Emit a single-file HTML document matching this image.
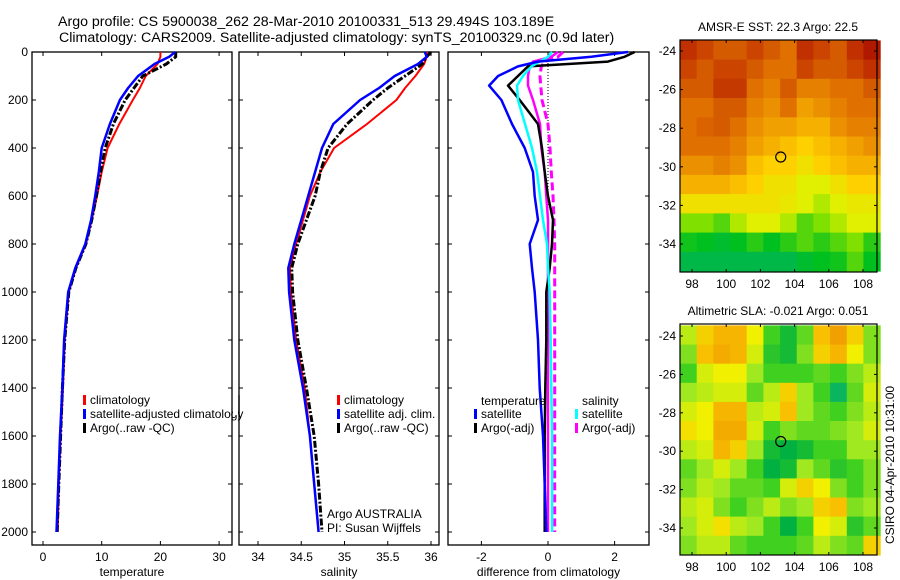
<!DOCTYPE html>
<html><head><meta charset="utf-8">
<style>
html,body{margin:0;padding:0;background:#fff;}
svg{display:block;font-family:"Liberation Sans",sans-serif;}
text{fill:#000;}
</style></head>
<body>
<svg id="fig" width="900" height="580" viewBox="0 0 900 580">
<text x="58" y="26" font-size="14.2">Argo profile: CS 5900038_262 28-Mar-2010 20100331_513 29.494S 103.189E</text>
<text x="59" y="42" font-size="14.2">Climatology: CARS2009. Satellite-adjusted climatology: synTS_20100329.nc (0.9d later)</text>
<g id="layer"></g>
</svg>
<script>
// ---- profile data ----
const depths = [0,20,50,100,150,200,300,400,500,600,700,800,900,1000,1200,1400,1600,1800,2000];
const tempClim = [20,20,19.5,17.5,16.5,15.3,13,11,10,9.2,8.3,7.3,5.6,4.4,3.7,3.4,3.0,2.7,2.5];
const tempSat = [22.5,21.5,19,16.2,14.5,13.1,11.4,10,9.5,8.9,8.2,7.2,5.5,4.3,3.6,3.3,2.9,2.6,2.3];
const tempArgo = [22.6,22.6,21,17,15.5,14,12,10.6,9.8,9.1,8.3,7.3,5.6,4.4,3.7,3.3,3.0,2.7,2.4];
const salClim = [35.95,35.95,35.92,35.82,35.7,35.6,35.26,34.88,34.72,34.6,34.52,34.44,34.37,34.38,34.44,34.54,34.6,34.65,34.7];
const salSat = [35.93,35.95,35.85,35.58,35.4,35.18,34.87,34.74,34.66,34.58,34.5,34.42,34.35,34.36,34.42,34.52,34.6,34.65,34.7];
const salArgo = [36.0,35.95,35.9,35.7,35.5,35.33,35.03,34.81,34.72,34.66,34.56,34.46,34.39,34.4,34.46,34.56,34.65,34.7,34.74];
// ---- difference data ----
const diffDepths = [0,20,40,60,100,140,200,300,400,500,600,700,800,900,1000,1200,1400,1600,1800,2000];
const dTempSat = [2.4,1.3,-0.3,-0.9,-1.5,-1.77,-1.4,-1.08,-0.7,-0.45,-0.4,-0.3,-0.55,-0.48,-0.4,-0.3,-0.25,-0.15,-0.1,-0.05];
const dTempArgo = [2.6,2.3,1.8,-0.6,-0.9,-1.2,-0.85,-0.3,-0.18,-0.1,0.0,0.15,0.12,0.05,-0.05,-0.05,-0.08,-0.1,-0.1,-0.1];
const dSalSat = [0.12,0.0,-0.25,-0.5,-0.75,-0.93,-0.9,-0.69,-0.48,-0.33,-0.24,-0.15,-0.03,0.0,0.05,0.08,0.1,0.12,0.12,0.12];
const dSalArgo = [0.3,0.1,-0.45,-0.55,-0.6,-0.6,-0.45,-0.24,-0.2,-0.1,-0.05,0.0,0.0,0.0,0.0,0.0,0.0,0.0,0.0,0.0];
const dSalArgo2 = [0.45,0.3,-0.1,-0.2,-0.24,-0.22,-0.18,0.0,0.06,0.1,0.15,0.18,0.2,0.2,0.2,0.2,0.2,0.2,0.2,0.2];
// ---- ticks ----
const depthTicks = [0,200,400,600,800,1000,1200,1400,1600,1800,2000];
const tempTicks = [0,10,20,30];
const salTicks = [34,34.5,35,35.5,36];
const diffTicks = [-2,0,2];
const lonTicks = [98,100,102,104,106,108];
const latTicks = [-24,-26,-28,-30,-32,-34];
// ---- map grids (rows lat -24..-35, cols lon 97.5..108.5) ----
const sstGrid = [
[0.9,0.85,0.8,0.8,0.85,0.8,0.75,0.9,0.85,0.8,0.9,0.95],
[0.85,0.8,0.85,0.85,0.8,0.75,0.75,0.85,0.8,0.8,0.85,0.9],
[0.8,0.8,0.88,0.88,0.75,0.7,0.8,0.7,0.7,0.75,0.75,0.8],
[0.75,0.75,0.8,0.8,0.7,0.65,0.75,0.6,0.65,0.7,0.75,0.75],
[0.75,0.78,0.8,0.75,0.65,0.6,0.6,0.55,0.55,0.65,0.7,0.7],
[0.75,0.75,0.75,0.7,0.6,0.55,0.5,0.45,0.5,0.55,0.6,0.65],
[0.65,0.65,0.7,0.65,0.5,0.45,0.45,0.4,0.45,0.5,0.55,0.55],
[0.55,0.55,0.55,0.5,0.45,0.4,0.4,0.35,0.35,0.4,0.45,0.45],
[0.4,0.4,0.4,0.4,0.4,0.4,0.38,0.35,0.3,0.35,0.38,0.38],
[0.25,0.25,0.2,0.3,0.35,0.35,0.3,0.2,0.25,0.3,0.35,0.35],
[0.12,0.1,0.08,0.1,0.15,0.1,0.15,0.2,0.15,0.2,0.25,0.15],
[0.05,0.05,0.05,0.05,0.05,0.05,0.05,0.08,0.1,0.12,0.2,0.1]];
const slaGrid = [
[0.5,0.7,0.8,0.8,0.6,0.3,0.2,0.35,0.75,0.9,0.7,0.4],
[0.4,0.75,0.85,0.8,0.55,0.25,0.2,0.4,0.7,0.8,0.6,0.4],
[0.3,0.55,0.6,0.6,0.45,0.3,0.3,0.3,0.35,0.3,0.4,0.5],
[0.45,0.5,0.55,0.55,0.35,0.5,0.7,0.45,0.3,0.1,0.35,0.55],
[0.55,0.6,0.8,0.8,0.5,0.55,0.75,0.45,0.35,0.3,0.4,0.5],
[0.65,0.6,0.85,0.85,0.55,0.3,0.4,0.35,0.35,0.4,0.45,0.55],
[0.5,0.55,0.8,0.7,0.45,0.2,0.15,0.2,0.3,0.3,0.45,0.45],
[0.35,0.45,0.55,0.45,0.3,0.15,0.2,0.45,0.35,0.25,0.3,0.4],
[0.4,0.5,0.45,0.35,0.35,0.3,0.55,0.7,0.6,0.4,0.3,0.4],
[0.5,0.55,0.4,0.3,0.4,0.5,0.4,0.45,0.7,0.75,0.4,0.45],
[0.45,0.55,0.65,0.5,0.45,0.3,0.15,0.3,0.6,0.55,0.25,0.35],
[0.4,0.5,0.5,0.35,0.3,0.3,0.3,0.35,0.5,0.4,0.35,0.7]];
const floatLon = 103.189, floatLat = -29.494;

const NS = 'http://www.w3.org/2000/svg';
const layer = document.getElementById('layer');
function mk(tag, attrs, parent){ const e=document.createElementNS(NS,tag); for(const k in attrs) e.setAttribute(k,attrs[k]); (parent||layer).appendChild(e); return e; }
function txt(x,y,s,size,anchor,parent){ const t=mk('text',{x:x,y:y,'font-size':size||12,'text-anchor':anchor||'start'},parent); t.textContent=s; return t; }

const pTop=52, pBot=545;
const yD = d => 52 + d*0.24;

function panel(name, x0, x1, xs, xt, xlabel, showYLabels){
  const g = mk('g',{});
  
  
  const r = mk('rect',{x:x0,y:pTop,width:x1-x0,height:pBot-pTop,fill:'none',stroke:'#000','stroke-width':1.3},g);
  
  
  depthTicks.forEach(d=>{
    const y=yD(d);
    mk('line',{x1:x0,y1:y,x2:x0+4,y2:y,stroke:'#000'},g);
    mk('line',{x1:x1,y1:y,x2:x1-4,y2:y,stroke:'#000'},g);
    if(showYLabels){ const t=txt(28,y+4,String(d),12,'end',g);
      
       }
  });
  xt.forEach(v=>{
    const x=xs(v);
    mk('line',{x1:x,y1:pBot,x2:x,y2:pBot-4,stroke:'#000'},g);
    mk('line',{x1:x,y1:pTop,x2:x,y2:pTop+4,stroke:'#000'},g);
    const t=txt(x,561,String(v),12,'middle',g);
    
    
  });
  const xl=txt((x0+x1)/2,576,xlabel,12,'middle',g);
  
  
  return g;
}
function line(g, xs, vals, ds, color, w, dash, name){
  const pts = vals.map((v,i)=>xs(v).toFixed(1)+','+yD(ds[i]).toFixed(1)).join(' ');
  const p = mk('polyline',{points:pts,fill:'none',stroke:color,'stroke-width':w,'stroke-linejoin':'round'},g);
  if(dash) p.setAttribute('stroke-dasharray',dash);
  
  
}
function legend(g, x, y, color, label, name){
  const b=mk('rect',{x:x,y:y-9,width:3,height:10,fill:color},g);
  
  
  const t=txt(x+7,y,label,12,'start',g);
  
  
}

// Panel 1 temperature
const xT = v => 43 + v*5.87;
const g1 = panel('temperature-panel', 32, 232, xT, tempTicks, 'temperature', true);
line(g1,xT,tempClim,depths,'#f00',2,null,'temp-climatology-line');
line(g1,xT,tempArgo,depths,'#000',3,'7,2,2,2','temp-argo-line');
line(g1,xT,tempSat,depths,'#00f',2.5,null,'temp-satellite-line');
legend(g1,83,404,'#f00','climatology','legend-climatology');
legend(g1,83,418,'#00f','satellite-adjusted climatology','legend-satellite');
legend(g1,83,432,'#000','Argo(..raw -QC)','legend-argo');

// Panel 2 salinity
const xS = v => 258 + (v-34)*86.5;
const g2 = panel('salinity-panel', 239, 439, xS, salTicks, 'salinity', false);
// white cover for overflowing legend text of panel 1
mk('rect',{x:233,y:395,width:5,height:20,fill:'#fff'},g2);
mk('line',{x1:239,y1:395,x2:239,y2:415,stroke:'#000','stroke-width':1.3},g2);
line(g2,xS,salClim,depths,'#f00',2,null,'sal-climatology-line');
line(g2,xS,salArgo,depths,'#000',3,'7,2,2,2','sal-argo-line');
line(g2,xS,salSat,depths,'#00f',2.5,null,'sal-satellite-line');
legend(g2,337,404,'#f00','climatology','legend2-climatology');
legend(g2,337,418,'#00f','satellite adj. clim.','legend2-satellite');
legend(g2,337,432,'#000','Argo(..raw -QC)','legend2-argo');
const a1=txt(327,518,'Argo AUSTRALIA',12,'start',g2);


const a2=txt(327,532,'PI: Susan Wijffels',12,'start',g2);



// Panel 3 differences
const xF = v => 548 + v*33.3;
const g3 = panel('difference-panel', 448, 649, xF, diffTicks, 'difference from climatology', false);
const zl = mk('line',{x1:xF(0),y1:pTop+2,x2:xF(0),y2:yD(2000),stroke:'#000','stroke-width':1,'stroke-dasharray':'1,2'},g3);


line(g3,xF,dSalArgo2,diffDepths,'#f0f',3,'8,4','diff-sal-argo-dashed-line');
line(g3,xF,dSalArgo,diffDepths,'#f0f',2.5,null,'diff-sal-argo-line');
line(g3,xF,dTempArgo,diffDepths,'#000',2.5,null,'diff-temp-argo-line');
line(g3,xF,dSalSat,diffDepths,'#0ff',2.5,null,'diff-sal-satellite-line');
line(g3,xF,dTempSat,diffDepths,'#00f',2.5,null,'diff-temp-satellite-line');
const lt=txt(481,405,'temperature',12,'start',g3);


const ls=txt(582,405,'salinity',12,'start',g3);


legend(g3,474,418,'#00f','satellite','legend3-temp-satellite');
legend(g3,474,432,'#000','Argo(-adj)','legend3-temp-argo');
legend(g3,575,418,'#0ff','satellite','legend3-sal-satellite');
legend(g3,575,432,'#f0f','Argo(-adj)','legend3-sal-argo');

// Maps
function ramp(stops, v){
  for(let i=1;i<stops.length;i++){
    if(v<=stops[i][0]){ const a=stops[i-1],b=stops[i]; const t=(v-a[0])/(b[0]-a[0]);
      const c=a[1].map((x,k)=>Math.round(x+(b[1][k]-x)*t)); return 'rgb('+c.join(',')+')'; }
  }
  return 'rgb('+stops[stops.length-1][1].join(',')+')';
}
const sstStops=[[0,[0,176,112]],[0.1,[0,192,32]],[0.25,[128,224,0]],[0.35,[224,240,0]],[0.45,[255,208,0]],[0.6,[240,160,0]],[0.75,[224,112,0]],[0.9,[192,48,0]],[1,[160,0,0]]];
const slaStops=[[0,[32,192,160]],[0.15,[0,176,64]],[0.3,[64,208,32]],[0.45,[160,232,32]],[0.6,[240,240,0]],[0.75,[248,192,0]],[0.9,[240,160,0]],[1,[230,130,0]]];
function drawMap(name, y0, y1, grid, stops, title, latAt24, latAt34){
  const x0=680,x1=877;
  const g=mk('g',{});
  
  
  const lonX = lon => 692 + (lon-98)*17.1;
  const latY = lat => latAt24 + (-24-lat)*(latAt34-latAt24)/10;
  const rows=grid.length, cols=grid[0].length;
  const lon0=97.3, lon1=109.0, lat0=-23.45, lat1=-35.4;
  const dl=(lon1-lon0)/cols, dt=(lat0-lat1)/rows;
  grid.forEach((row,r)=>row.forEach((v,c)=>{
    const xa=lonX(lon0+c*dl), xb=lonX(lon0+(c+1)*dl);
    const ya=latY(lat0-r*dt), yb=latY(lat0-(r+1)*dt);
    const cell=mk('rect',{x:xa.toFixed(1),y:ya.toFixed(1),width:(xb-xa+0.6).toFixed(1),height:(yb-ya+0.6).toFixed(1),fill:ramp(stops,v)},g);
    
    
  }));
  mk('rect',{x:x0,y:y0,width:x1-x0,height:y1-y0,fill:'none',stroke:'#000','stroke-width':1.2},g);
  lonTicks.forEach(l=>{ const x=lonX(l);
    mk('line',{x1:x,y1:y1,x2:x,y2:y1-3,stroke:'#000'},g);
    mk('line',{x1:x,y1:y0,x2:x,y2:y0+3,stroke:'#000'},g);
    const t=txt(x,y1+16,String(l),12,'middle',g);
    
     });
  latTicks.forEach(l=>{ const y=latY(l);
    mk('line',{x1:x0,y1:y,x2:x0+3,y2:y,stroke:'#000'},g);
    mk('line',{x1:x1,y1:y,x2:x1-3,y2:y,stroke:'#000'},g);
    const t=txt(676,y+4,String(l),12,'end',g);
    
     });
  const c=mk('circle',{cx:lonX(floatLon),cy:latY(floatLat),r:5,fill:'none',stroke:'#000','stroke-width':1.2},g);
  
  
  const t=txt(778,y0-9,title,12,'middle',g);
  
  
}
drawMap('sst-map',40,272,sstGrid,sstStops,'AMSR-E SST: 22.3 Argo: 22.5',51,244);
drawMap('sla-map',324,555,slaGrid,slaStops,'Altimetric SLA: -0.021  Argo: 0.051',336,528);
const side=txt(0,0,'CSIRO 04-Apr-2010 10:31:00',12,'middle');
side.setAttribute('transform','translate(894,465) rotate(-90)');


</script>
</body></html>
